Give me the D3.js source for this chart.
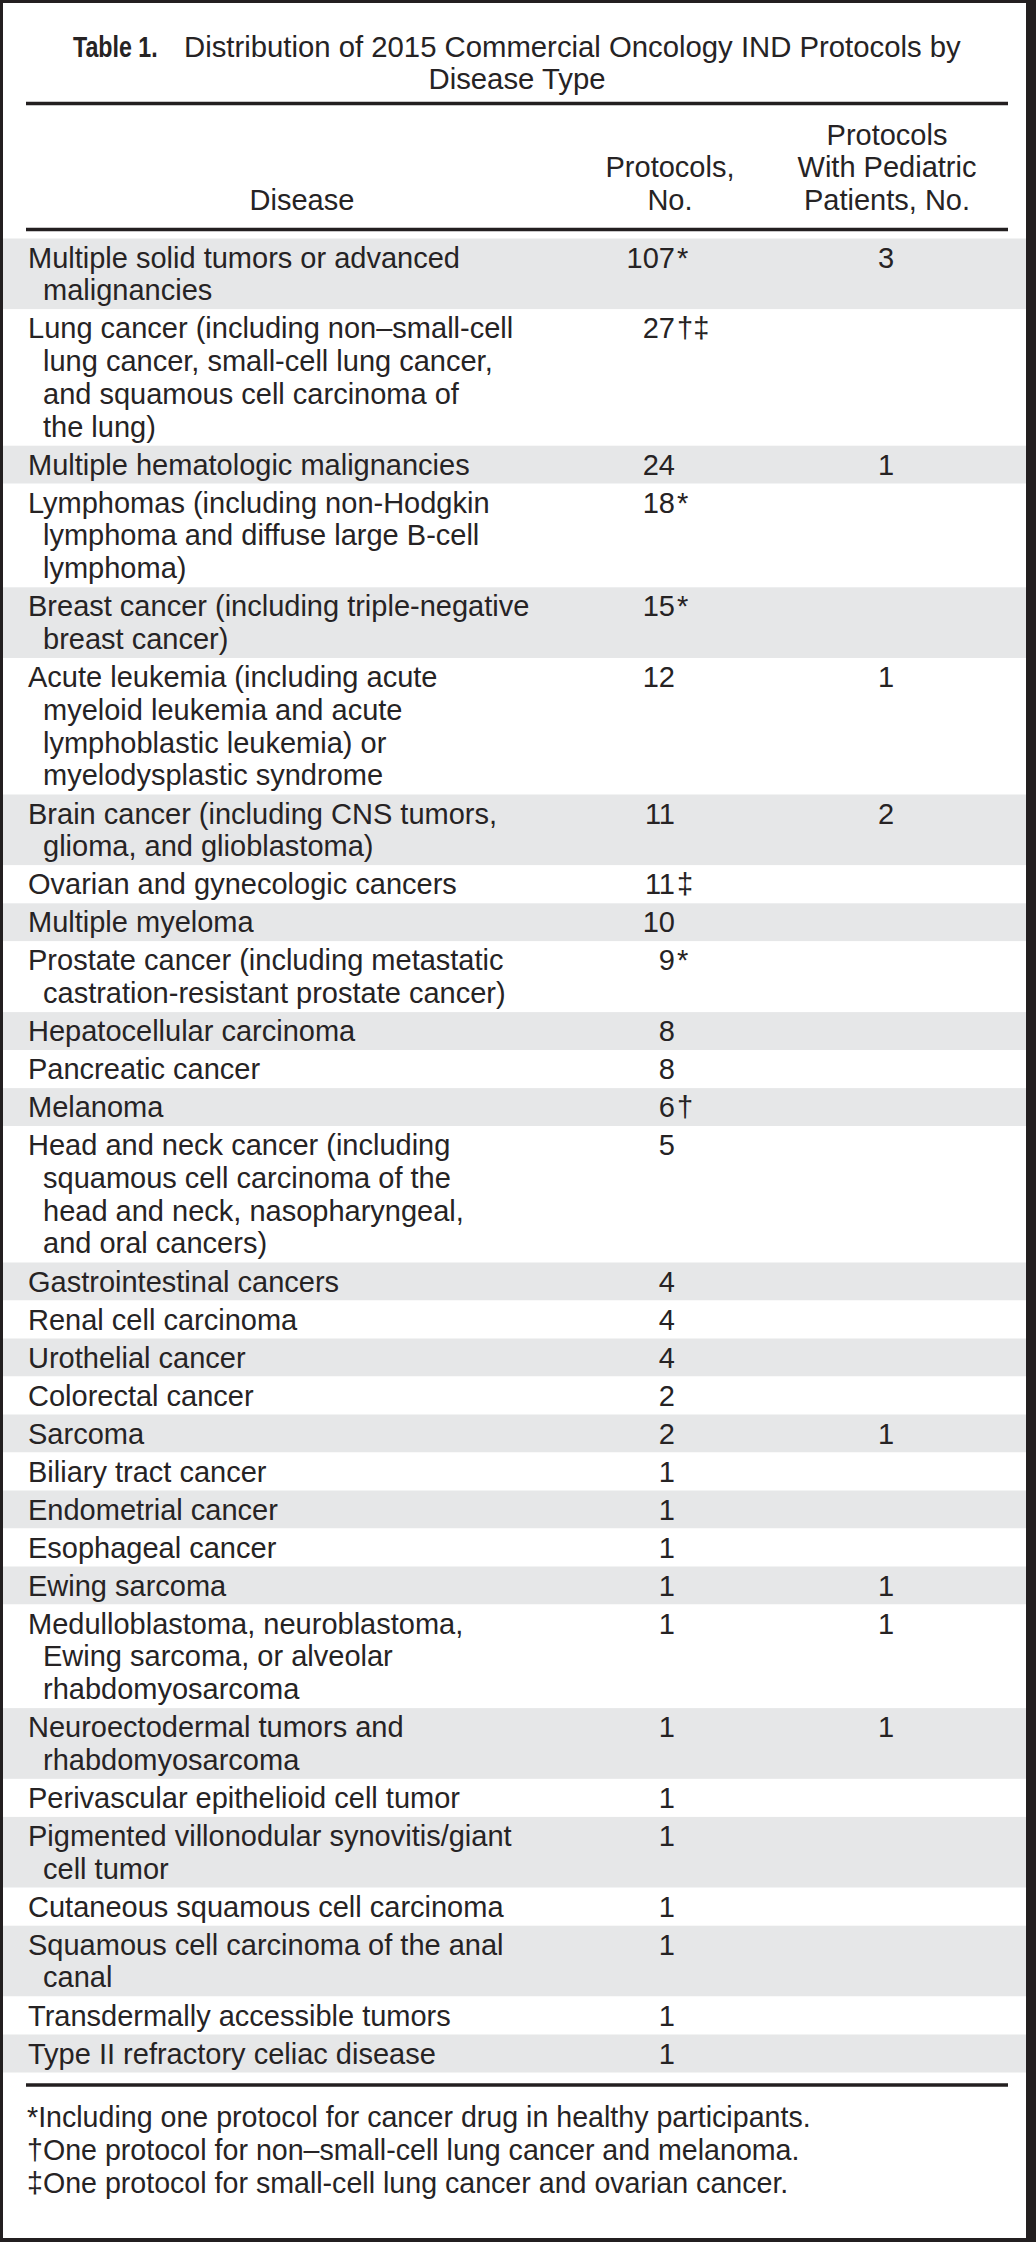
<!DOCTYPE html>
<html>
<head>
<meta charset="utf-8">
<script src="https://cdn.jsdelivr.net/npm/d3@7"></script>
<style>
  html, body { margin: 0; padding: 0; background: #fff; }
  svg text { font-family: "Liberation Sans", Arial, Helvetica, sans-serif; fill: #262324; }
</style>
</head>
<body>
<svg id="chart" width="1036" height="2242"></svg>
<script>
// ---------- DATA ----------
const titleLabel = "Table 1.";
const titleLines = ["Distribution of 2015 Commercial Oncology IND Protocols by", "Disease Type"];

const headerDisease = ["Disease"];
const headerProtocols = ["Protocols,", "No."];
const headerPediatric = ["Protocols", "With Pediatric", "Patients, No."];

const diseases = [
  ["Multiple solid tumors or advanced", "malignancies"],
  ["Lung cancer (including non\u2013small-cell", "lung cancer, small-cell lung cancer,", "and squamous cell carcinoma of", "the lung)"],
  ["Multiple hematologic malignancies"],
  ["Lymphomas (including non-Hodgkin", "lymphoma and diffuse large B-cell", "lymphoma)"],
  ["Breast cancer (including triple-negative", "breast cancer)"],
  ["Acute leukemia (including acute", "myeloid leukemia and acute", "lymphoblastic leukemia) or", "myelodysplastic syndrome"],
  ["Brain cancer (including CNS tumors,", "glioma, and glioblastoma)"],
  ["Ovarian and gynecologic cancers"],
  ["Multiple myeloma"],
  ["Prostate cancer (including metastatic", "castration-resistant prostate cancer)"],
  ["Hepatocellular carcinoma"],
  ["Pancreatic cancer"],
  ["Melanoma"],
  ["Head and neck cancer (including", "squamous cell carcinoma of the", "head and neck, nasopharyngeal,", "and oral cancers)"],
  ["Gastrointestinal cancers"],
  ["Renal cell carcinoma"],
  ["Urothelial cancer"],
  ["Colorectal cancer"],
  ["Sarcoma"],
  ["Biliary tract cancer"],
  ["Endometrial cancer"],
  ["Esophageal cancer"],
  ["Ewing sarcoma"],
  ["Medulloblastoma, neuroblastoma,", "Ewing sarcoma, or alveolar", "rhabdomyosarcoma"],
  ["Neuroectodermal tumors and", "rhabdomyosarcoma"],
  ["Perivascular epithelioid cell tumor"],
  ["Pigmented villonodular synovitis/giant", "cell tumor"],
  ["Cutaneous squamous cell carcinoma"],
  ["Squamous cell carcinoma of the anal", "canal"],
  ["Transdermally accessible tumors"],
  ["Type II refractory celiac disease"]
];

const protocolCounts = [107, 27, 24, 18, 15, 12, 11, 11, 10, 9, 8, 8, 6, 5, 4, 4, 4, 2, 2, 1, 1, 1, 1, 1, 1, 1, 1, 1, 1, 1, 1];
const protocolMarks  = ["*", "\u2020\u2021", "", "*", "*", "", "", "\u2021", "", "*", "", "", "\u2020", "", "", "", "", "", "", "", "", "", "", "", "", "", "", "", "", "", ""];
const pediatricCounts = [3, null, 1, null, null, 1, 2, null, null, null, null, null, null, null, null, null, null, null, 1, null, null, null, 1, 1, 1, null, null, null, null, null, null];

const footnotes = [
  "*Including one protocol for cancer drug in healthy participants.",
  "\u2020One protocol for non\u2013small-cell lung cancer and melanoma.",
  "\u2021One protocol for small-cell lung cancer and ovarian cancer."
];

// ---------- LAYOUT ----------
const W = 1036, H = 2242;
const svg = d3.select("#chart");
const FS = 29;
const ruleX0 = 26, ruleX1 = 1008;

// column scale
const columns = ["disease", "protocols", "pediatric"];
const colX = d3.scaleOrdinal().domain(columns).range([28, 675, 886]);
const headerX = d3.scaleOrdinal().domain(columns).range([302, 670, 887]);

// row geometry: single line row height + extra lines
const lineScale = d3.scaleLinear().domain([0, 1]).range([0, 32.8]);
const firstRowH = 38;
const tableTop = 238.5;
const rowHeights = diseases.map(d => firstRowH + lineScale(d.length - 1));
const rowTops = [tableTop];
rowHeights.forEach((h, i) => rowTops.push(rowTops[i] + h));
const tableBottom = rowTops[rowTops.length - 1];

// frame
svg.append("rect").attr("x", 0).attr("y", 0).attr("width", W).attr("height", H).attr("fill", "#231f20");
svg.append("rect").attr("x", 3).attr("y", 3).attr("width", W - 3 - 10).attr("height", H - 3 - 4).attr("fill", "#ffffff");

// title
svg.append("text")
  .attr("transform", "translate(73,57) scale(0.8,1)")
  .style("font-size", "29px")
  .style("font-weight", "bold")
  .text(titleLabel);
svg.append("text").attr("x", 184).attr("y", 57).style("font-size", "29.3px").text(titleLines[0]);
svg.append("text").attr("x", 517).attr("y", 89).attr("text-anchor", "middle").style("font-size", "29.3px").text(titleLines[1]);

// rules
function rule(y) {
  svg.append("line").attr("x1", ruleX0).attr("x2", ruleX1).attr("y1", y).attr("y2", y)
    .attr("stroke", "#231f20").attr("stroke-width", 3.5);
}
rule(103.5);
rule(229.5);

// header
const headerBase = [145, 177, 209.5];
function headerCol(lines, key) {
  const off = headerBase.length - lines.length;
  svg.append("g").selectAll("text").data(lines).join("text")
    .attr("x", headerX(key))
    .attr("y", (d, i) => headerBase[i + off])
    .attr("text-anchor", "middle")
    .style("font-size", FS + "px")
    .text(d => d);
}
headerCol(headerDisease, "disease");
headerCol(headerProtocols, "protocols");
headerCol(headerPediatric, "pediatric");

// rows
const rows = svg.append("g").selectAll("g").data(diseases).join("g")
  .attr("transform", (d, i) => `translate(0,${rowTops[i]})`);

rows.append("rect")
  .attr("x", 3).attr("y", 0)
  .attr("width", W - 13)
  .attr("height", (d, i) => rowHeights[i])
  .attr("fill", (d, i) => i % 2 === 0 ? "#e6e7e8" : "#ffffff");

rows.each(function(lines, i) {
  const g = d3.select(this);
  g.selectAll("text.dis").data(lines).join("text")
    .attr("class", "dis")
    .attr("x", (d, j) => colX("disease") + (j > 0 ? 15 : 0))
    .attr("y", (d, j) => 29 + lineScale(j))
    .style("font-size", FS + "px")
    .text(d => d);

  g.append("text")
    .attr("x", colX("protocols"))
    .attr("y", 29)
    .attr("text-anchor", "end")
    .style("font-size", FS + "px")
    .text(protocolCounts[i]);
  if (protocolMarks[i]) {
    g.append("text")
      .attr("x", colX("protocols") + 2)
      .attr("y", 29)
      .style("font-size", FS + "px")
      .text(protocolMarks[i]);
  }
  if (pediatricCounts[i] != null) {
    g.append("text")
      .attr("x", colX("pediatric"))
      .attr("y", 29)
      .attr("text-anchor", "middle")
      .style("font-size", FS + "px")
      .text(pediatricCounts[i]);
  }
});

// bottom rule
rule(tableBottom + 12.5);

// footnotes
svg.append("g").selectAll("text").data(footnotes).join("text")
  .attr("x", 27)
  .attr("y", (d, i) => tableBottom + 54.5 + lineScale(i))
  .style("font-size", "28.6px")
  .text(d => d);
</script>
</body>
</html>
